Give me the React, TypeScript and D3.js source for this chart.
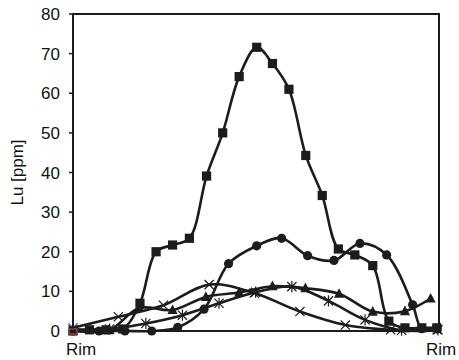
import React from "react";
import * as d3 from "d3";

// Lu profiles across a grain, rim to rim (position in % of traverse)
const squarePos = [0, 4.5, 9.0, 13.6, 18.3, 22.7, 27.2, 31.8, 36.5, 40.9, 45.4, 50.2, 54.5, 59.0, 63.6, 68.1, 72.5, 77.0, 81.9, 86.3, 90.7, 95.3, 99.4];
const squareLu = [0, 0.3, 0.3, 0.5, 7.0, 20.0, 21.7, 23.4, 39.1, 50.0, 64.2, 71.6, 67.5, 61.0, 44.3, 34.2, 20.7, 19.2, 16.5, 2.5, 0.8, 0.8, 0.8];

const circlePos = [0, 7.1, 14.2, 21.5, 28.6, 35.8, 42.5, 50.2, 57.0, 64.1, 71.3, 78.4, 85.7, 92.8, 95.3, 99.5];
const circleLu = [0, 0, 0, 0, 0.9, 5.5, 17.0, 21.5, 23.4, 19.0, 17.8, 22.1, 19.2, 6.6, 0.6, 0.5];

const trianglePos = [0, 9.8, 18.1, 27.2, 36.3, 45.4, 54.5, 63.5, 72.7, 81.9, 90.7, 97.7];
const triangleLu = [0, 0.2, 5.8, 5.3, 8.6, 9.7, 11.3, 10.8, 9.4, 4.9, 5.0, 8.2];

const crossPos = [0, 12.4, 24.7, 37.2, 49.5, 62.0, 74.4, 86.8, 99.5];
const crossLu = [0.8, 3.6, 6.5, 11.7, 9.6, 4.9, 1.5, 0.3, 0.3];

const starPos = [0, 10.0, 19.9, 29.9, 39.9, 49.9, 59.8, 69.8, 79.8, 89.8, 99.7];
const starLu = [0.4, 0.5, 1.9, 4.0, 7.0, 9.8, 11.2, 7.6, 2.8, 0.2, 0.3];

const yTicks = [0, 10, 20, 30, 40, 50, 60, 70, 80];
const yTitle = "Lu [ppm]";
const rimLabel = "Rim";

type Marker = "square" | "circle" | "triangle" | "cross" | "star";

const series: { pos: number[]; lu: number[]; marker: Marker }[] = [
  { pos: starPos, lu: starLu, marker: "star" },
  { pos: crossPos, lu: crossLu, marker: "cross" },
  { pos: trianglePos, lu: triangleLu, marker: "triangle" },
  { pos: circlePos, lu: circleLu, marker: "circle" },
  { pos: squarePos, lu: squareLu, marker: "square" },
];

const W = 459;
const H = 360;
const left = 73;
const right = 439;
const top = 14;
const bottom = 331;

const x = d3.scaleLinear().domain([0, 100]).range([left, right]);
const y = d3.scaleLinear().domain([0, 80]).range([bottom, top]);

const ink = "#1c1c1c";
const font = "'Liberation Sans', Arial, sans-serif";

function drawMarker(kind: Marker, cx: number, cy: number, key: string, color = ink) {
  const s = 4.6;
  switch (kind) {
    case "square":
      return <rect key={key} x={cx - s} y={cy - s} width={2 * s} height={2 * s} fill={color} />;
    case "circle":
      return <circle key={key} cx={cx} cy={cy} r={s} fill={color} />;
    case "triangle":
      return (
        <path
          key={key}
          d={`M${cx},${cy - s - 1}L${cx + s + 0.5},${cy + s - 0.5}L${cx - s - 0.5},${cy + s - 0.5}Z`}
          fill={color}
        />
      );
    case "cross":
      return (
        <path
          key={key}
          d={`M${cx - s},${cy - s}L${cx + s},${cy + s}M${cx - s},${cy + s}L${cx + s},${cy - s}`}
          stroke={color}
          strokeWidth={1.2}
          fill="none"
        />
      );
    case "star":
      return (
        <path
          key={key}
          d={`M${cx - s},${cy - s}L${cx + s},${cy + s}M${cx - s},${cy + s}L${cx + s},${cy - s}M${cx},${cy - s - 1}L${cx},${cy + s + 1}`}
          stroke={color}
          strokeWidth={1.2}
          fill="none"
        />
      );
  }
}

export default function App() {
  const line = d3
    .line<[number, number]>()
    .x((d) => x(d[0]))
    .y((d) => y(d[1]))
    .curve(d3.curveCatmullRom.alpha(0.5));

  return (
    <svg width={W} height={H} style={{ position: "absolute", left: 0, top: 0 }}>
      <rect width={W} height={H} fill="#fff" />

      {/* plot frame */}
      <rect x={left} y={top} width={right - left} height={bottom - top} fill="none" stroke={ink} strokeWidth={2} />

      {/* y axis ticks and labels */}
      {yTicks.map((t) => (
        <g key={t}>
          <line x1={left - 4} x2={left} y1={y(t)} y2={y(t)} stroke={ink} strokeWidth={1.5} />
          <text
            x={60}
            y={y(t)}
            dy="0.36em"
            textAnchor="end"
            fontFamily={font}
            fontSize={17}
            fill="#111"
          >
            {t}
          </text>
        </g>
      ))}

      <text
        transform={`translate(23,${(top + bottom) / 2}) rotate(-90)`}
        textAnchor="middle"
        fontFamily={font}
        fontSize={17}
        fill="#111"
      >
        {yTitle}
      </text>

      <text x={81} y={355} textAnchor="middle" fontFamily={font} fontSize={17} fill="#111">
        {rimLabel}
      </text>
      <text x={441} y={355} textAnchor="middle" fontFamily={font} fontSize={17} fill="#111">
        {rimLabel}
      </text>

      {/* smoothed profile lines */}
      {series.map((s, i) => (
        <path
          key={`l${i}`}
          d={line(s.pos.map((p, j) => [p, s.lu[j]] as [number, number])) || ""}
          fill="none"
          stroke={ink}
          strokeWidth={2.6}
        />
      ))}

      {/* markers */}
      {series.map((s, i) =>
        s.pos.map((p, j) => {
          let color = ink;
          if (j === 0 && s.marker === "cross") color = "#3a7fc1";
          return drawMarker(s.marker, x(p), y(s.lu[j]), `m${i}-${j}`, color);
        })
      )}
      <rect x={x(0) - 4} y={y(0) - 2} width={8} height={5} fill="none" stroke="#c8504a" strokeWidth={1} />
    </svg>
  );
}
